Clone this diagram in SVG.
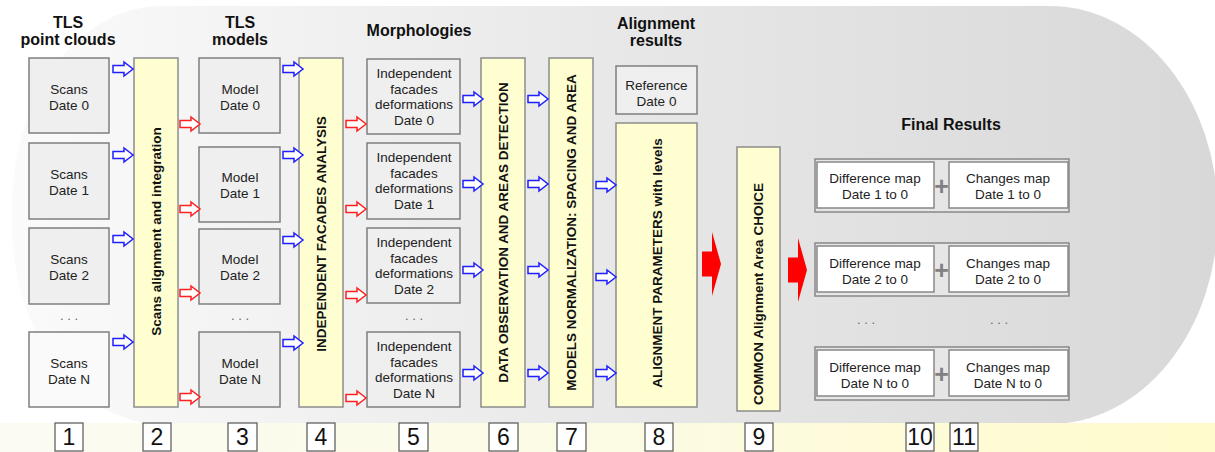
<svg xmlns="http://www.w3.org/2000/svg" width="1215" height="452" viewBox="0 0 1215 452">
<defs>
<linearGradient id="bgG" gradientUnits="userSpaceOnUse" x1="0" y1="0" x2="1215" y2="0">
<stop offset="0" stop-color="#fbfbfb"/>
<stop offset="0.5" stop-color="#e8e8e8"/>
<stop offset="1" stop-color="#d8d8d8"/>
</linearGradient>
<linearGradient id="bandG" gradientUnits="userSpaceOnUse" x1="0" y1="0" x2="1215" y2="0">
<stop offset="0" stop-color="#fbfbf3"/>
<stop offset="0.5" stop-color="#fcfbe4"/>
<stop offset="1" stop-color="#fffbcc"/>
</linearGradient>
<path id="ha" d="M0,-3.5 H11 V-7 L20,0 L11,7 V3.5 H0 Z"/>
<path id="ba" d="M0,-12.5 H10 V-32 L19,0 L10,32 V12.5 H0 Z"/>
</defs>
<style>
.box{fill:#efefef;stroke:#7f7f7f;stroke-width:1.5}
.bar{fill:#fefed0;stroke:#8c8c8c;stroke-width:1.5}
.t{font-family:"Liberation Sans",Arial,sans-serif;font-size:13.5px;fill:#222;text-anchor:middle}
.vt{font-family:"Liberation Sans",Arial,sans-serif;font-size:13.5px;font-weight:bold;fill:#111;text-anchor:middle}
.h{font-family:"Liberation Sans",Arial,sans-serif;font-size:16px;font-weight:bold;fill:#111;text-anchor:middle}
.dots{font-family:"Liberation Sans",Arial,sans-serif;font-size:13px;fill:#666;text-anchor:middle}
.nb{fill:#fff;stroke:#555;stroke-width:1.2}
.n{font-family:"Liberation Sans",Arial,sans-serif;font-size:23px;fill:#111;text-anchor:middle}
.blue{fill:#fff;stroke:#1f1fff;stroke-width:1.5}
.red{fill:#fff;stroke:#ff2020;stroke-width:1.5}
.big{fill:#ff0000}
.outer{fill:#e6e6e6;stroke:#888;stroke-width:1.5}
.inner{fill:#fff;stroke:#888;stroke-width:1.5}
.plus{font-family:"Liberation Sans",Arial,sans-serif;font-size:25px;font-weight:bold;fill:#808080;text-anchor:middle}
</style>

<g id="background">
<path d="M162 6 L1050 6 A168 209 0 0 1 1050 424 L162 424 A150 200 0 0 1 12 224 L12 206 A150 200 0 0 1 162 6 Z" fill="url(#bgG)"/>
<rect x="0" y="423" width="1215" height="29" fill="url(#bandG)"/>
</g>

<g id="headers">
<text class="h" x="68" y="28">TLS</text>
<text class="h" x="68" y="45">point clouds</text>
<text class="h" x="240" y="28">TLS</text>
<text class="h" x="240" y="45">models</text>
<text class="h" x="419" y="36">Morphologies</text>
<text class="h" x="656" y="29">Alignment</text>
<text class="h" x="656" y="46">results</text>
<text class="h" x="951" y="130">Final Results</text>
</g>

<g id="scans0"><rect class="box" x="29" y="58" width="80" height="75"/><text class="t" x="69" y="94">Scans</text><text class="t" x="69" y="109.5">Date 0</text></g>
<g id="scans1"><rect class="box" x="29" y="143" width="80" height="76"/><text class="t" x="69" y="179">Scans</text><text class="t" x="69" y="194.5">Date 1</text></g>
<g id="scans2"><rect class="box" x="29" y="228" width="80" height="76"/><text class="t" x="69" y="264">Scans</text><text class="t" x="69" y="279.5">Date 2</text></g>
<g id="scansN"><rect class="box" x="29" y="332" width="80" height="75" style="fill:#fafafa"/><text class="t" x="69" y="368">Scans</text><text class="t" x="69" y="383.5">Date N</text></g>
<text class="dots" x="69" y="320">. . .</text>

<g id="bar2"><rect class="bar" x="134" y="58" width="44" height="349"/><text class="vt" transform="translate(160.8,231.5) rotate(-90)">Scans alignment and integration</text></g>

<g id="model0"><rect class="box" x="199" y="58" width="81" height="75"/><text class="t" x="240" y="94">Model</text><text class="t" x="240" y="109.5">Date 0</text></g>
<g id="model1"><rect class="box" x="199" y="147" width="81" height="75"/><text class="t" x="240" y="182">Model</text><text class="t" x="240" y="197.5">Date 1</text></g>
<g id="model2"><rect class="box" x="199" y="229" width="81" height="75"/><text class="t" x="240" y="264">Model</text><text class="t" x="240" y="279.5">Date 2</text></g>
<g id="modelN"><rect class="box" x="199" y="332" width="81" height="75"/><text class="t" x="240" y="368">Model</text><text class="t" x="240" y="383.5">Date N</text></g>
<text class="dots" x="240" y="320">. . .</text>

<g id="bar4"><rect class="bar" x="299" y="58" width="44" height="349"/><text class="vt" transform="translate(325.8,234) rotate(-90)">INDEPENDENT FACADES ANALYSIS</text></g>

<g id="morph0"><rect class="box" x="367" y="59" width="93" height="75"/><text class="t" x="414" y="78">Independent</text><text class="t" x="414" y="93.5">facades</text><text class="t" x="414" y="109">deformations</text><text class="t" x="414" y="124.5">Date 0</text></g>
<g id="morph1"><rect class="box" x="367" y="143" width="93" height="76"/><text class="t" x="414" y="162">Independent</text><text class="t" x="414" y="177.5">facades</text><text class="t" x="414" y="193">deformations</text><text class="t" x="414" y="208.5">Date 1</text></g>
<g id="morph2"><rect class="box" x="367" y="228" width="93" height="75"/><text class="t" x="414" y="247">Independent</text><text class="t" x="414" y="262.5">facades</text><text class="t" x="414" y="278">deformations</text><text class="t" x="414" y="293.5">Date 2</text></g>
<g id="morphN"><rect class="box" x="367" y="332" width="93" height="75"/><text class="t" x="414" y="351">Independent</text><text class="t" x="414" y="366.5">facades</text><text class="t" x="414" y="382">deformations</text><text class="t" x="414" y="397.5">Date N</text></g>
<text class="dots" x="414" y="320">. . .</text>

<g id="bar6"><rect class="bar" x="481" y="58" width="44" height="349"/><text class="vt" transform="translate(507.8,232.5) rotate(-90)">DATA OBSERVATION AND AREAS DETECTION</text></g>
<g id="bar7"><rect class="bar" x="549" y="58" width="44" height="349"/><text class="vt" transform="translate(575.8,232.5) rotate(-90)">MODELS NORMALIZATION: SPACING AND AREA</text></g>

<g id="reference"><rect class="box" x="616" y="66" width="81" height="48"/><text class="t" x="656.5" y="90">Reference</text><text class="t" x="656.5" y="105.5">Date 0</text></g>
<g id="bar8"><rect class="bar" x="616" y="123" width="81" height="284"/><text class="vt" transform="translate(661.8,263) rotate(-90)">ALIGNMENT PARAMETERS with levels</text></g>
<g id="bar9"><rect class="bar" x="737" y="147" width="43" height="264"/><text class="vt" transform="translate(763.3,294) rotate(-90)">COMMON Alignment Area CHOICE</text></g>

<g id="result1">
<rect class="outer" x="815" y="159" width="254" height="53"/>
<rect class="inner" x="817" y="162" width="117" height="46"/>
<rect class="inner" x="949" y="162" width="119" height="46"/>
<text class="t" x="875" y="183">Difference map</text><text class="t" x="875" y="198.5">Date 1 to 0</text>
<text class="plus" x="941.5" y="195">+</text>
<text class="t" x="1008" y="183">Changes map</text><text class="t" x="1008" y="198.5">Date 1 to 0</text>
</g>
<g id="result2">
<rect class="outer" x="815" y="243" width="254" height="53"/>
<rect class="inner" x="817" y="246" width="117" height="46"/>
<rect class="inner" x="949" y="246" width="119" height="46"/>
<text class="t" x="875" y="268">Difference map</text><text class="t" x="875" y="283.5">Date 2 to 0</text>
<text class="plus" x="941.5" y="279">+</text>
<text class="t" x="1008" y="268">Changes map</text><text class="t" x="1008" y="283.5">Date 2 to 0</text>
</g>
<text class="dots" x="866" y="324">. . .</text>
<text class="dots" x="999" y="324">. . .</text>
<g id="resultN">
<rect class="outer" x="815" y="347" width="254" height="53"/>
<rect class="inner" x="817" y="350" width="117" height="46"/>
<rect class="inner" x="949" y="350" width="119" height="46"/>
<text class="t" x="875" y="372">Difference map</text><text class="t" x="875" y="387.5">Date N to 0</text>
<text class="plus" x="941.5" y="383">+</text>
<text class="t" x="1008" y="372">Changes map</text><text class="t" x="1008" y="387.5">Date N to 0</text>
</g>

<g id="connectors">
<use href="#ha" class="blue" x="113" y="69"/>
<use href="#ha" class="blue" x="113" y="155"/>
<use href="#ha" class="blue" x="113" y="239"/>
<use href="#ha" class="blue" x="113" y="342"/>
<use href="#ha" class="red" x="180" y="124"/>
<use href="#ha" class="red" x="180" y="209"/>
<use href="#ha" class="red" x="180" y="293"/>
<use href="#ha" class="red" x="180" y="397"/>
<use href="#ha" class="blue" x="283" y="69"/>
<use href="#ha" class="blue" x="283" y="155"/>
<use href="#ha" class="blue" x="283" y="240"/>
<use href="#ha" class="blue" x="283" y="343"/>
<use href="#ha" class="red" x="346" y="124"/>
<use href="#ha" class="red" x="346" y="209"/>
<use href="#ha" class="red" x="346" y="295"/>
<use href="#ha" class="red" x="346" y="398"/>
<use href="#ha" class="blue" x="463" y="99"/>
<use href="#ha" class="blue" x="463" y="184"/>
<use href="#ha" class="blue" x="463" y="270"/>
<use href="#ha" class="blue" x="463" y="373"/>
<use href="#ha" class="blue" x="528" y="99"/>
<use href="#ha" class="blue" x="528" y="184"/>
<use href="#ha" class="blue" x="528" y="270"/>
<use href="#ha" class="blue" x="528" y="373"/>
<use href="#ha" class="blue" x="596" y="185"/>
<use href="#ha" class="blue" x="596" y="277"/>
<use href="#ha" class="blue" x="596" y="373"/>
<use href="#ba" class="big" x="702" y="264"/>
<use href="#ba" class="big" x="788" y="270"/>
</g>

<g id="numbers">
<rect class="nb" x="55" y="423" width="28" height="28"/><text class="n" x="69" y="445">1</text>
<rect class="nb" x="143" y="423" width="28" height="28"/><text class="n" x="157" y="445">2</text>
<rect class="nb" x="228" y="423" width="29" height="28"/><text class="n" x="242.5" y="445">3</text>
<rect class="nb" x="307" y="423" width="28" height="28"/><text class="n" x="321" y="445">4</text>
<rect class="nb" x="399" y="423" width="29" height="28"/><text class="n" x="413.5" y="445">5</text>
<rect class="nb" x="489" y="423" width="29" height="28"/><text class="n" x="503.5" y="445">6</text>
<rect class="nb" x="557" y="423" width="29" height="28"/><text class="n" x="571.5" y="445">7</text>
<rect class="nb" x="645" y="423" width="28" height="28"/><text class="n" x="659" y="445">8</text>
<rect class="nb" x="745" y="423" width="28" height="28"/><text class="n" x="759" y="445">9</text>
<rect class="nb" x="906" y="423" width="28" height="28"/><text class="n" x="920" y="445">10</text>
<rect class="nb" x="950" y="423" width="28" height="28"/><text class="n" x="964" y="445">11</text>
</g>
</svg>
